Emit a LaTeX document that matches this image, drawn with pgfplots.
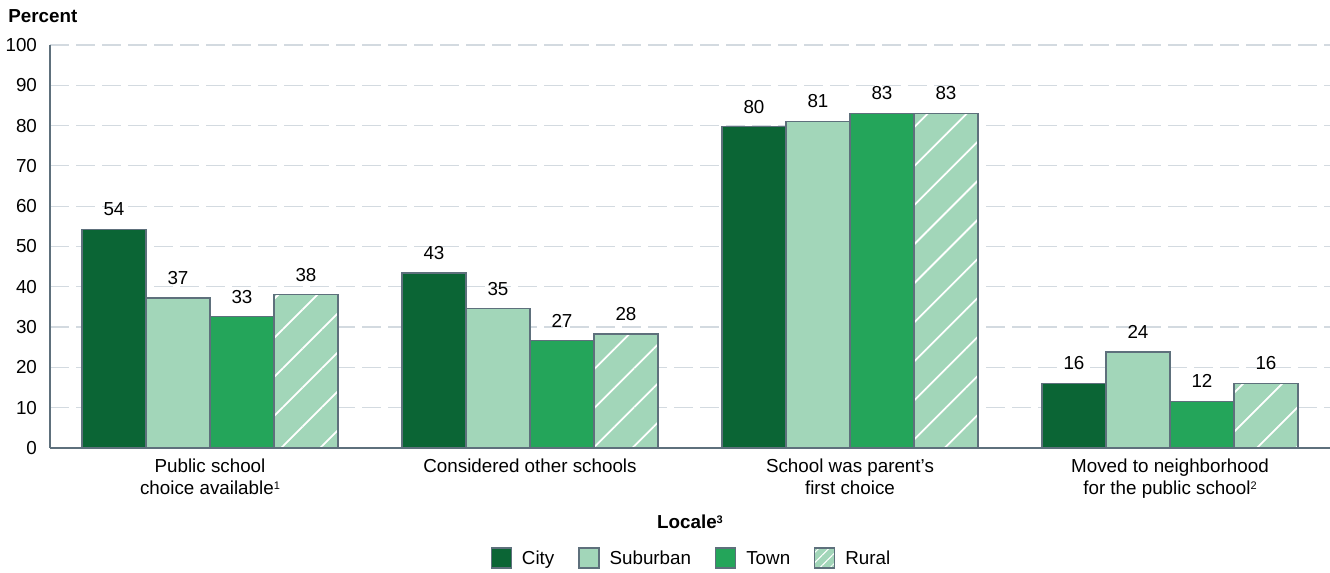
\documentclass[border=0pt]{standalone}
\usepackage{pgfplots}
\usepackage{pgfplotstable}
\pgfplotsset{compat=1.18}
\usepackage{fontspec}
\setmainfont{Liberation Sans}
\usetikzlibrary{patterns.meta}
\definecolor{city}{HTML}{0B6535}
\definecolor{suburban}{HTML}{A2D6B9}
\definecolor{town}{HTML}{24A55A}
\definecolor{edge}{HTML}{5E707C}
\definecolor{gridc}{HTML}{D3DAE0}
\pgfplotstableread{
x city citylab sub sublab town townlab rural rurallab
0 54.3 54 37.2 37 32.6 33 38.0 38
1 43.4 43 34.6 35 26.6 27 28.3 28
2 79.7 80 81.1 81 83.1 83 83.1 83
3 16.1 16 23.8 24 11.6 12 16.1 16
}\datatable
\newcommand{\fs}{\fontsize{9.4}{11}\selectfont}
\newcommand{\sups}[1]{\raisebox{2.8pt}{\fontsize{5.5}{6}\selectfont #1}}
\begin{document}
\begin{tikzpicture}
\useasboundingbox (-25pt,-62.5pt) rectangle (640pt,224pt);
\begin{axis}[
  at={(0,0)}, anchor=south west,
  scale only axis, width=640pt, height=201.5pt,
  xmin=-0.5, xmax=3.5, ymin=0, ymax=100,
  ybar=0pt, bar width=32pt,
  axis x line=bottom, axis y line=left,
  axis line style={-, edge, line width=0.6pt},
  x axis line style={line width=1.1pt},
  ytick={0,10,...,100}, major tick length=0pt,
  /pgf/number format/assume math mode=true,
  ymajorgrids, grid style={gridc, dash pattern=on 9.5pt off 3.5pt, line width=0.6pt},
  xtick={0,1,2,3},
  xticklabels={{Public school\\choice available\sups{1}},
               {Considered other schools},
               {School was parent’s\\first choice},
               {Moved to neighborhood\\for the public school\sups{2}}},
  xticklabel style={align=center, font=\fs, yshift=-2pt},
  yticklabel style={font=\fs, xshift=-3pt},
  point meta=explicit symbolic,
  nodes near coords,
  nodes near coords style={font=\fs, black, yshift=3pt},
  legend columns=4,
  legend style={at={(0.502,-0.273)}, anchor=center, draw=none, font=\fs,
    /tikz/every even column/.append style={column sep=10pt}},
  legend image code/.code={\draw[#1] (0pt,-5pt) rectangle (10pt,5pt); \path (0pt,0pt) (13pt,0pt);},
  every axis plot/.append style={draw=edge, line width=0.6pt},
  clip=false,
]
\addplot[fill=city] table[x=x, y=city, meta=citylab] {\datatable};
\addplot[fill=suburban] table[x=x, y=sub, meta=sublab] {\datatable};
\addplot[fill=town] table[x=x, y=town, meta=townlab] {\datatable};
\addplot[preaction={fill=suburban}, pattern={Lines[angle=45,distance=13.8pt,line width=0.9pt]}, pattern color=white,
  legend image code/.code={\draw[draw=edge, line width=0.6pt, preaction={fill=suburban}, pattern={Lines[angle=45,distance=3.6pt,line width=0.5pt]}, pattern color=white] (0pt,-5pt) rectangle (10pt,5pt); \path (0pt,0pt) (13pt,0pt);}
  ] table[x=x, y=rural, meta=rurallab] {\datatable};
\legend{City\strut, Suburban\strut, Town\strut, Rural\strut}
\node[anchor=base west, inner sep=0pt, font=\fs\bfseries] at (rel axis cs:0,1) [xshift=-21pt, yshift=11pt] {Percent};
\node[anchor=center, font=\fs\bfseries] at (rel axis cs:0.5,0) [yshift=-37pt] {Locale\sups{3}};
\end{axis}
\end{tikzpicture}
\end{document}
